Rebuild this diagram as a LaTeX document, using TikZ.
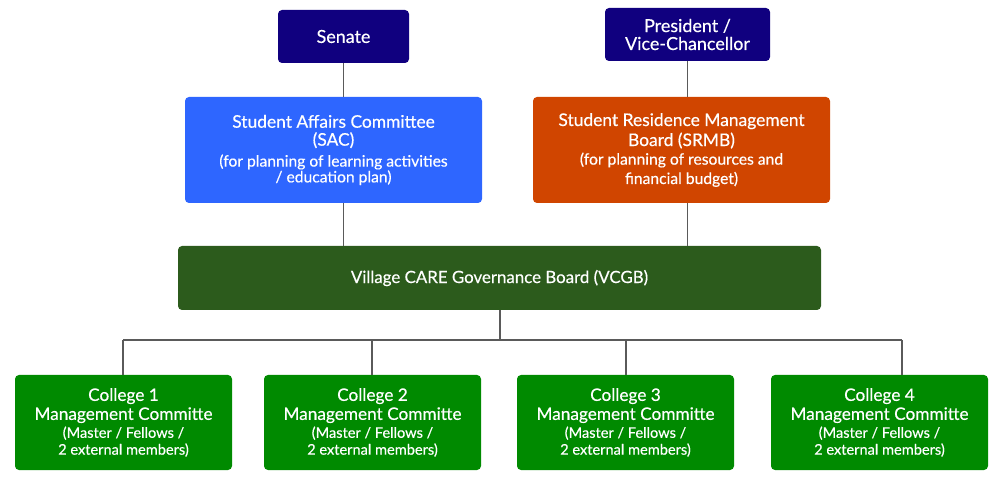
\documentclass[tikz,border=0pt]{standalone}
\usepackage{fontspec}
\setmainfont{Lato}[FakeBold=0.4]
\usepackage{xcolor}
\usepackage{tikz}
\usetikzlibrary{positioning}

\definecolor{senateblue}{HTML}{10007F}
\definecolor{sacblue}{HTML}{2E66FF}
\definecolor{srmborange}{HTML}{D04500}
\definecolor{vcgbgreen}{HTML}{2C5B1C}
\definecolor{collgreen}{HTML}{008A00}
\definecolor{linegray}{HTML}{5A5A5A}

\newcommand{\subtxt}[1]{{\fontsize{8.9}{9}\selectfont #1}}
\newcommand{\coltxt}[1]{{\fontsize{8.3}{9}\selectfont #1}}

\begin{document}
\begin{tikzpicture}[box/.style={rectangle, rounded corners=0.08cm, fill=#1, text=white, align=center, inner sep=0pt},
link/.style={draw, linegray, line width=1.1pt}]

\useasboundingbox (0,0) rectangle (20,9.58);

\node[box=senateblue, minimum width=2.62cm, minimum height=1.06cm, font=\fontsize{10.2}{10.2}\selectfont] (senate) at (6.87, 8.85) {Senate};
\node[box=senateblue, minimum width=3.30cm, minimum height=1.06cm, font=\fontsize{10.2}{10.2}\selectfont] (pres) at (13.75, 8.89) {President /\\Vice-Chancellor};

\node[box=sacblue, minimum width=5.94cm, minimum height=2.12cm, font=\fontsize{9.9}{10.2}\selectfont] (sac) at (6.67, 6.58) {
Student Affairs Committee\\
(SAC)\\[1.7pt]
\subtxt{(for planning of learning activities}\\[-1.2pt]
\subtxt{/ education plan)}
};
\node[box=srmborange, minimum width=5.94cm, minimum height=2.12cm, font=\fontsize{9.9}{10.2}\selectfont] (srmb) at (13.63, 6.58) {
Student Residence Management\\[1.2pt]
Board (SRMB)\\[0.4pt]
\subtxt{(for planning of resources and}\\[0.8pt]
\subtxt{financial budget)}
};

\node[box=vcgbgreen, minimum width=12.86cm, minimum height=1.28cm, font=\fontsize{9.6}{10.2}\selectfont] (vcgb) at (9.99, 4.02) {Village CARE Governance Board (VCGB)};

\node[box=collgreen, minimum width=4.34cm, minimum height=1.90cm, font=\fontsize{9.8}{10.2}\selectfont] (col1) at (2.47, 1.13) {
College 1\\[0.6pt] Management Committe\\
\coltxt{(Master / Fellows /}\\[-0.6pt]
\coltxt{2 external members)}
};
\node[box=collgreen, minimum width=4.34cm, minimum height=1.90cm, font=\fontsize{9.8}{10.2}\selectfont] (col2) at (7.45, 1.13) {
College 2\\[0.6pt] Management Committe\\
\coltxt{(Master / Fellows /}\\[-0.6pt]
\coltxt{2 external members)}
};
\node[box=collgreen, minimum width=4.34cm, minimum height=1.90cm, font=\fontsize{9.8}{10.2}\selectfont] (col3) at (12.51, 1.13) {
College 3\\[0.6pt] Management Committe\\
\coltxt{(Master / Fellows /}\\[-0.6pt]
\coltxt{2 external members)}
};
\node[box=collgreen, minimum width=4.34cm, minimum height=1.90cm, font=\fontsize{9.8}{10.2}\selectfont] (col4) at (17.59, 1.13) {
College 4\\[0.6pt] Management Committe\\
\coltxt{(Master / Fellows /}\\[-0.6pt]
\coltxt{2 external members)}
};

\coordinate (b1) at (2.46, 2.78);
\coordinate (b2) at (7.44, 2.78);
\coordinate (bm) at (10.0, 2.78);
\coordinate (b3) at (12.52, 2.78);
\coordinate (b4) at (18.04, 2.78);

\path[link] (senate.south) -- (senate.south |- sac.north);
\path[link] (senate.south |- sac.south) -- (senate.south |- vcgb.north);
\path[link] (pres.south) -- (pres.south |- srmb.north);
\path[link] (pres.south |- srmb.south) -- (pres.south |- vcgb.north);

\path[link] (bm |- vcgb.south) -- (bm);
\path[link] (b1) -- (b4);
\path[link] (b1) -- (b1 |- col1.north);
\path[link] (b2) -- (b2 |- col2.north);
\path[link] (b3) -- (b3 |- col3.north);
\path[link] (b4) -- (b4 |- col4.north);

\end{tikzpicture}
\end{document}
